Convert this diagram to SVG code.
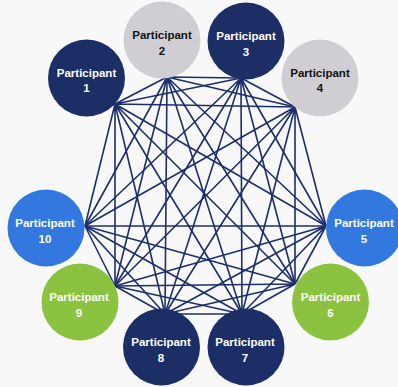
<svg xmlns="http://www.w3.org/2000/svg" width="398" height="387" viewBox="0 0 398 387">
<style>
.e{stroke:#1c2f6b;stroke-width:1.6;fill:none}
.navy{fill:#1b2e66}
.gray{fill:#d0ced3}
.blue{fill:#3278de}
.green{fill:#8bc23f}
text{font-family:"Liberation Sans",Arial,sans-serif;font-weight:bold;font-size:11.5px;text-anchor:middle}
.w{fill:#ffffff}
.k{fill:#111111}
</style>
<rect width="398" height="387" fill="#f8f8f8"/>
<g id="connectors" class="e">
<path d="M115 104L167 77M115 104L241 78M115 104L295 107M115 104L326 226M115 104L295 284M115 104L242 314M115 104L165 314M115 104L115 286M115 104L85 226"/>
<path d="M167 77L241 78M167 77L295 107M167 77L326 226M167 77L295 284M167 77L242 314M167 77L165 314M167 77L115 286M167 77L85 226"/>
<path d="M241 78L295 107M241 78L326 226M241 78L295 284M241 78L242 314M241 78L165 314M241 78L115 286M241 78L85 226"/>
<path d="M295 107L326 226M295 107L295 284M295 107L242 314M295 107L165 314M295 107L115 286M295 107L85 226"/>
<path d="M326 226L295 284M326 226L242 314M326 226L165 314M326 226L115 286M326 226L85 226"/>
<path d="M295 284L242 314M295 284L165 314M295 284L115 286M295 284L85 226"/>
<path d="M242 314L165 314M242 314L115 286M242 314L85 226"/>
<path d="M165 314L115 286M165 314L85 226"/>
<path d="M115 286L85 226"/>
</g>
<g id="p1"><circle class="navy" cx="86.5" cy="78" r="38.5"/><text class="w" x="86.5" y="77">Participant</text><text class="w" x="86.5" y="92">1</text></g>
<g id="p2"><circle class="gray" cx="162" cy="40" r="38.5"/><text class="k" x="162" y="39">Participant</text><text class="k" x="162" y="55">2</text></g>
<g id="p3"><circle class="navy" cx="246" cy="41" r="38.5"/><text class="w" x="246" y="40">Participant</text><text class="w" x="246" y="56">3</text></g>
<g id="p4"><circle class="gray" cx="320" cy="78" r="38.5"/><text class="k" x="320" y="77">Participant</text><text class="k" x="320" y="92">4</text></g>
<g id="p5"><circle class="blue" cx="364.5" cy="228" r="38.5"/><text class="w" x="364" y="227">Participant</text><text class="w" x="364" y="243">5</text></g>
<g id="p6"><circle class="green" cx="330.5" cy="302" r="38.5"/><text class="w" x="330.5" y="301">Participant</text><text class="w" x="330.5" y="317">6</text></g>
<g id="p7"><circle class="navy" cx="246" cy="347" r="38.5"/><text class="w" x="245" y="346">Participant</text><text class="w" x="245" y="362">7</text></g>
<g id="p8"><circle class="navy" cx="161.5" cy="347" r="38.5"/><text class="w" x="161" y="346">Participant</text><text class="w" x="161" y="362">8</text></g>
<g id="p9"><circle class="green" cx="80" cy="302" r="38.5"/><text class="w" x="79" y="301">Participant</text><text class="w" x="79" y="317">9</text></g>
<g id="p10"><circle class="blue" cx="46" cy="228" r="38.5"/><text class="w" x="45" y="227">Participant</text><text class="w" x="45" y="243">10</text></g>
</svg>
